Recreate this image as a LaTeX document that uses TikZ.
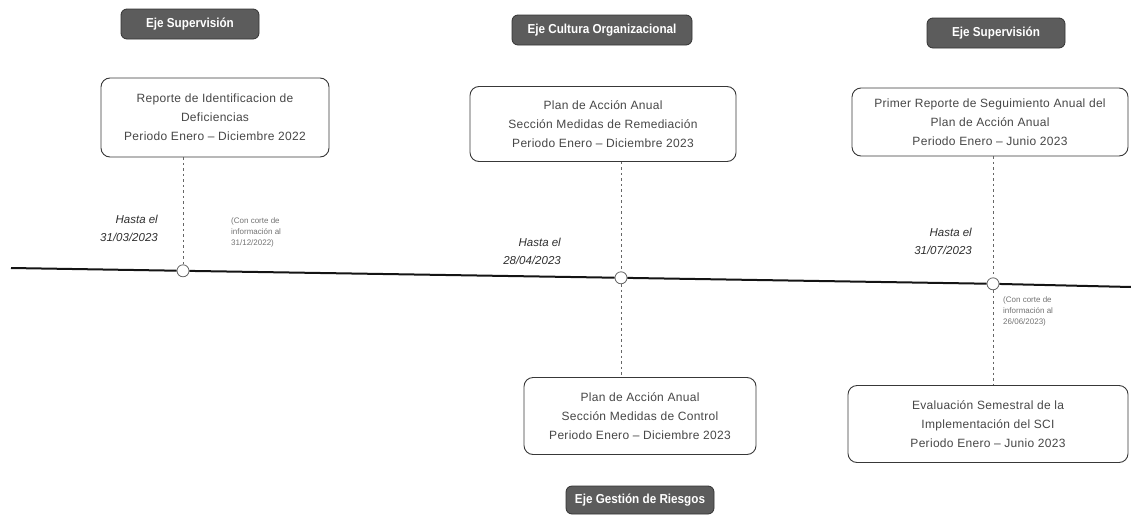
\documentclass[tikz,border=0pt]{standalone}
\usepackage{fontspec}
\setmainfont{Liberation Sans}
\newfontfamily\cardfont[LetterSpace=2.5]{Liberation Sans}
\newfontfamily\axfont[FakeStretch=0.9]{Liberation Sans}
\begin{document}
\begin{tikzpicture}[x=1pt,y=-1pt,
  axisbox/.style={fill=black!64, draw=black!80, line width=0.8pt, rounded corners=6pt,
    text=white, font=\axfont\bfseries\fontsize{13}{15}\selectfont, inner sep=0pt, minimum height=30pt},
  card/.style={draw=black!78, line width=0.9pt, rounded corners=9pt, fill=white, align=center,
    text=black!72, font=\cardfont\fontsize{12}{19}\selectfont, inner sep=0pt},
  guide/.style={draw=black!60, line width=0.8pt, dash pattern=on 2.5pt off 3pt},
  evt/.style={circle, draw=black!60, fill=white, line width=0.8pt, minimum size=12pt, inner sep=0pt},
  tline/.style={draw=black!92, line width=2pt},
  until/.style={font=\itshape\fontsize{11.5}{17.5}\selectfont, text=black!82, align=right, inner sep=0pt, anchor=north east},
  cutnote/.style={font=\fontsize{8}{11}\selectfont, text=black!55, align=left, inner sep=0pt, anchor=north west}
]
\useasboundingbox (0,0) rectangle (1131,522);

% axis labels
\node[axisbox, minimum width=138pt] (ax1) at (190,24) {Eje Supervisión};
\node[axisbox, minimum width=180pt] (ax2) at (602,30) {Eje Cultura Organizacional};
\node[axisbox, minimum width=138pt] (ax3) at (996,33) {Eje Supervisión};
\node[axisbox, minimum width=148pt, minimum height=28pt] (ax4) at (640,500) {Eje Gestión de Riesgos};

% cards
\node[card, minimum width=228pt, minimum height=79pt] (b1) at (215,117.5)
  {Reporte de Identificacion de\\Deficiencias\\Periodo Enero – Diciembre 2022};
\node[card, minimum width=266pt, minimum height=75pt] (b2) at (603,124)
  {Plan de Acción Anual\\Sección Medidas de Remediación\\Periodo Enero – Diciembre 2023};
\node[card, minimum width=232pt, minimum height=77pt] (b3) at (640,416)
  {Plan de Acción Anual\\Sección Medidas de Control\\Periodo Enero – Diciembre 2023};
\node[card, minimum width=276pt, minimum height=68pt] (b4) at (990,122)
  {Primer Reporte de Seguimiento Anual del\\Plan de Acción Anual\\Periodo Enero – Junio 2023};
\node[card, minimum width=280pt, minimum height=77pt] (b5) at (988,424)
  {Evaluación Semestral de la\\Implementación del SCI\\Periodo Enero – Junio 2023};

% timeline
\coordinate (t0) at (11,268);
\coordinate (t1) at (1131,287);
\node[evt] (c1) at (183,270.8) {};
\node[evt] (c2) at (621,277.8) {};
\node[evt] (c3) at (993,283.8) {};
\draw[tline] (t0) -- (c1) -- (c2) -- (c3) -- (t1);

% dashed guides
\draw[guide] (b1.south -| c1) -- (c1);
\draw[guide] (b2.south -| c2) -- (c2);
\draw[guide] (c2) -- (b3.north -| c2);
\draw[guide] (b4.south -| c3) -- (c3);
\draw[guide] (c3) -- (b5.north -| c3);

% dates
\node[until] (h1) at (158,215) {Hasta el\\31/03/2023};
\node[until] (h2) at (561,238) {Hasta el\\28/04/2023};
\node[until] (h3) at (972,228) {Hasta el\\31/07/2023};

% notes
\node[cutnote] (n1) at (231,217) {(Con corte de\\información al\\31/12/2022)};
\node[cutnote] (n2) at (1003,296) {(Con corte de\\información al\\26/06/2023)};
\end{tikzpicture}
\end{document}
